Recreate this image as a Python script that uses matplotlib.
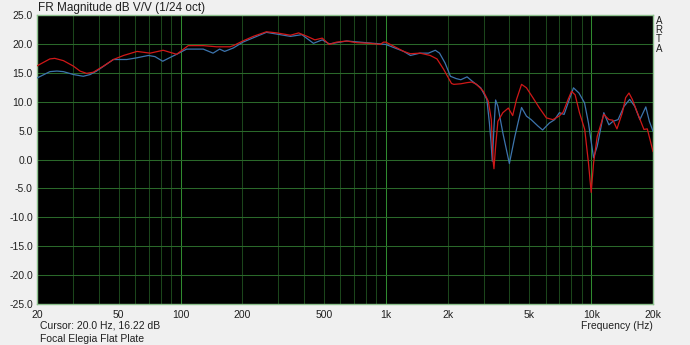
import matplotlib
matplotlib.use('Agg')
import matplotlib.pyplot as plt
from matplotlib.ticker import FixedLocator, NullLocator, FixedFormatter

plt.rcParams['font.family'] = ['Liberation Sans', 'DejaVu Sans']

# Red trace (left channel)
red_freq = [20, 23.1, 24.4, 26.9, 30.1, 32.4, 34.9, 37.6, 42.1, 47.1, 52.8, 61.4, 71.1, 82.3,
            95.7, 109, 129, 150, 174, 181, 201, 226, 262, 295, 343, 376, 414, 451, 490, 530,
            574, 645, 723, 836, 939, 973, 1000, 1092, 1222, 1317, 1466, 1645, 1774, 1912,
            2088, 2143, 2318, 2486, 2623, 2765, 2985, 3153, 3263, 3323, 3361, 3424, 3513,
            3713, 3950, 4146, 4330, 4580, 4840, 5200, 5600, 6050, 6500, 6980, 7300, 7720,
            8020, 8350, 8770, 9300, 9700, 10000, 10270, 10700, 11520, 12200, 12760, 13350,
            14180, 14720, 15280, 15860, 16780, 18070, 18760, 20000]
red_db = [16.2, 17.4, 17.5, 17.1, 16.15, 15.3, 14.9, 15.1, 16.15, 17.3, 18.0, 18.7, 18.4, 18.9,
          18.2, 19.7, 19.7, 19.5, 19.5, 19.7, 20.5, 21.3, 22.1, 21.9, 21.5, 21.9, 21.3, 20.7, 21.0, 19.9,
          20.3, 20.5, 20.2, 20.1, 19.9, 20.3, 20.3, 19.6, 18.7, 18.3, 18.4, 18.0, 17.4, 15.6,
          13.15, 13.0, 13.1, 13.3, 13.4, 13.0, 11.8, 10.1, 6.9, 0.0, -1.6, 2.3, 6.6,
          8.1, 8.9, 7.6, 10.4, 13.0, 12.4, 10.7, 8.9, 7.2, 6.9, 7.5, 8.2, 10.4,
          11.8, 11.2, 8.1, 5.2, -0.6, -5.7, -0.6, 4.0, 7.8, 6.9, 6.8, 5.3,
          8.1, 10.7, 11.5, 10.4, 8.1, 5.2, 5.3, 1.4]

# Blue trace (right channel)
blue_freq = [20, 23.1, 25, 26.9, 30.1, 33.6, 36.3, 39, 47.1, 54.8, 61.4, 69.7, 75.1, 81.9, 88.4,
             95.7, 107, 129, 144, 155, 164, 181, 201, 262, 343, 390, 444, 490, 530, 645, 939,
             1000, 1222, 1317, 1466, 1612, 1741, 1826, 1942, 2063, 2200, 2318, 2486, 2623,
             2899, 3104, 3194, 3254, 3298, 3361, 3424, 3513, 3713, 3995, 4250, 4580, 4840,
             5100, 5500, 5800, 6250, 6640, 7000, 7380, 7720, 8200, 8720, 9280, 9700, 10270,
             10700, 11520, 12200, 12760, 13520, 14450, 15400, 16300, 17270, 18450, 19200, 20000]
blue_db = [14.1, 15.2, 15.3, 15.2, 14.7, 14.4, 14.7, 15.3, 17.3, 17.3, 17.6, 18.0, 17.8, 17.0, 17.6,
           18.2, 19.1, 19.1, 18.4, 19.1, 18.7, 19.3, 20.3, 22.0, 21.3, 21.6, 20.1, 20.7, 20.0, 20.5, 20.0,
           19.9, 18.7, 18.0, 18.4, 18.4, 18.9, 18.4, 16.7, 14.4, 14.0, 13.8, 14.3, 13.6,
           12.4, 10.4, 6.3, 2.9, -0.3, 5.5, 10.3, 9.2, 4.6, -0.7, 4.0, 9.0, 7.5,
           6.9, 5.8, 5.1, 6.3, 6.9, 8.1, 7.8, 9.8, 12.4, 11.5, 9.8, 6.3, 0.3,
           2.3, 8.1, 6.0, 6.6, 6.9, 9.2, 10.4, 9.2, 6.9, 9.1, 6.6, 4.9]

x_ticks = [20, 50, 100, 200, 500, 1000, 2000, 5000, 10000, 20000]
x_labels = ['20', '50', '100', '200', '500', '1k', '2k', '5k', '10k', '20k']
y_ticks = list(range(-25, 30, 5))
major_lines = [100, 1000, 10000]
minor_lines = [f * m for m in (10, 100, 1000) for f in range(2, 10) if 20 < f * m < 20000]

fig = plt.figure(figsize=(6.9, 3.45), dpi=100, facecolor='#f0f0f0')
ax = fig.add_axes([37 / 690, 1 - 304 / 345, 616 / 690, 289 / 345])
ax.set_facecolor('black')
ax.set_xscale('log')
ax.set_xlim(20, 20000)
ax.set_ylim(-25, 25)

# grid
for f in minor_lines:
    ax.axvline(f, color='#1b451b', lw=0.75, zorder=1)
for f in major_lines:
    ax.axvline(f, color='#2f8a2f', lw=0.75, zorder=1)
for y in y_ticks[1:-1]:
    ax.axhline(y, color='#2a682a', lw=0.75, zorder=1)

ax.plot(blue_freq, blue_db, color='#3d74ad', lw=0.9, zorder=3)
ax.plot(red_freq, red_db, color='#d01818', lw=0.9, zorder=4)

ax.xaxis.set_major_locator(FixedLocator(x_ticks))
ax.xaxis.set_major_formatter(FixedFormatter(x_labels))
ax.xaxis.set_minor_locator(NullLocator())
ax.set_yticks(y_ticks)
ax.set_yticklabels(['%.1f' % v for v in y_ticks])
ax.tick_params(axis='both', length=0, labelsize=7.5, colors='#202020')
ax.tick_params(axis='x', pad=4)
ax.tick_params(axis='y', pad=3)

for s in ax.spines.values():
    s.set_color('#8cc08c')
    s.set_linewidth(1)

fig.text(38 / 690, 1 - 8 / 345, 'FR Magnitude dB V/V (1/24 oct)', fontsize=8.5,
         ha='left', va='center', color='#202020')
for i, ch in enumerate('ARTA'):
    fig.text(659 / 690, 1 - (21 + i * 9.2) / 345, ch, fontsize=7, ha='center', va='center',
             color='#202020')
fig.text(40 / 690, 1 - 326 / 345, 'Cursor: 20.0 Hz, 16.22 dB', fontsize=7.5,
         ha='left', va='center', color='#202020')
fig.text(40 / 690, 1 - 339 / 345, 'Focal Elegia Flat Plate', fontsize=7.5,
         ha='left', va='center', color='#202020')
fig.text(653 / 690, 1 - 326 / 345, 'Frequency (Hz)', fontsize=7.5,
         ha='right', va='center', color='#202020')

fig.savefig('out.png', dpi=100, facecolor=fig.get_facecolor())
